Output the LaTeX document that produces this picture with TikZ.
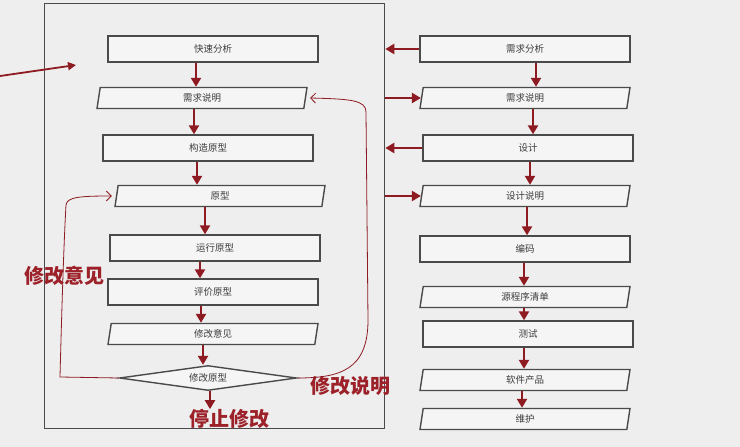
\documentclass[tikz,border=0pt]{standalone}
\usepackage{fontspec}
\setmainfont{Noto Sans CJK SC}
\usetikzlibrary{shapes.geometric,arrows.meta,calc}
\definecolor{bg}{HTML}{EEEEEE}
\definecolor{dred}{HTML}{8E1B22}
\definecolor{lred}{HTML}{9C2129}
\definecolor{edgec}{HTML}{4A4A4A}
\definecolor{txt}{HTML}{3C3C3C}
\tikzset{
  box/.style={draw=edgec, line width=1.4pt, fill=bg!60!white, minimum width=210pt, minimum height=26pt, inner sep=0pt, font=\fontsize{9.5}{10}\selectfont, text=txt},
  para/.style={box, trapezium, trapezium left angle=70, trapezium right angle=110, trapezium stretches body, minimum height=21pt, minimum width=210pt},
  dia/.style={box, diamond, aspect=7, minimum width=177pt, minimum height=25pt},
  arr/.style={dred, line width=2.3pt, -{Triangle[length=9pt,width=10pt]}},
  loopline/.style={dred, line width=0.8pt, -{Straight Barb[length=5pt,width=10pt]}},
  lab/.style={text=lred, font=\fontsize{20}{22}\selectfont\bfseries, inner sep=0pt}
}
\begin{document}
\begin{tikzpicture}[x=1pt,y=-1pt]
\fill[bg] (0,0) rectangle (740,447);
\useasboundingbox (0,0) rectangle (740,447);
\node[draw=edgec, line width=1.3pt, minimum width=340pt, minimum height=425pt, inner sep=0pt, anchor=north west] (frame) at (44,3) {};
% left column
\node[box] (a1) at (213,49) {快速分析};
\node[para] (a2) at (202,98) {需求说明};
\node[box] (a3) at (208,148) {构造原型};
\node[para] (a4) at (220,196) {原型};
\node[box] (a5) at (215,248) {运行原型};
\node[box] (a6) at (213,292) {评价原型};
\node[para] (a7) at (213,334) {修改意见};
\node[dia] (a8) at (208,378) {修改原型};
\node[lab] (stop) at (229,419) {停止修改};
\node[lab] (l1) at (64,276) {修改意见};
\node[lab] (l2) at (350,386) {修改说明};
\draw[arr] ([xshift=-17pt]a1.south) -- ([xshift=-17pt]a1.south |- a2.north);
\draw[arr] ([xshift=-8pt]a2.south) -- ([xshift=-8pt]a2.south |- a3.north);
\draw[arr] ([xshift=-11pt]a3.south) -- ([xshift=-11pt]a3.south |- a4.north);
\draw[arr] ([xshift=-15pt]a4.south) -- ([xshift=-15pt]a4.south |- a5.north);
\draw[arr] ([xshift=-15pt]a5.south) -- ([xshift=-15pt]a5.south |- a6.north);
\draw[arr] ([xshift=-12pt]a6.south) -- ([xshift=-12pt]a6.south |- a7.north);
\draw[arr] ([xshift=-10pt]a7.south) -- ([xshift=-10pt]a7.south |- a8.north);
\draw[arr] ([xshift=2pt]a8.south) -- ([xshift=2pt]a8.south |- stop.north);
% right column
\node[box] (b1) at (525,49) {需求分析};
\node[para] (b2) at (525,98) {需求说明};
\node[box] (b3) at (528,148) {设计};
\node[para] (b4) at (525,196) {设计说明};
\node[box] (b5) at (525,249) {编码};
\node[para] (b6) at (525,297) {源程序清单};
\node[box] (b7) at (528,334) {测试};
\node[para] (b8) at (525,380) {软件产品};
\node[para] (b9) at (525,419) {维护};
\draw[arr] ([xshift=11pt]b1.south) -- ([xshift=11pt]b1.south |- b2.north);
\draw[arr] ([xshift=8pt]b2.south) -- ([xshift=8pt]b2.south |- b3.north);
\draw[arr] ([xshift=2pt]b3.south) -- ([xshift=2pt]b3.south |- b4.north);
\draw[arr] ([xshift=2pt]b4.south) -- ([xshift=2pt]b4.south |- b5.north);
\draw[arr] ([xshift=-1pt]b5.south) -- ([xshift=-1pt]b5.south |- b6.north);
\draw[arr] ([xshift=-1pt]b6.south) -- ([xshift=-1pt]b6.south |- b7.north);
\draw[arr] ([xshift=-4pt]b7.south) -- ([xshift=-4pt]b7.south |- b8.north);
\draw[arr] ([xshift=-3pt]b8.south) -- ([xshift=-3pt]b8.south |- b9.north);
% horizontal links
\draw[arr] (b1.west) -- (b1.west -| frame.east);
\draw[arr] (b2.west -| frame.east) -- (b2.west);
\draw[arr] (b3.west) -- (b3.west -| frame.east);
\draw[arr] (b4.west -| frame.east) -- (b4.west);
% loops
\draw[loopline] (a8.west) -- (60,377) .. controls (62,300) and (64,240) .. (66,205) .. controls (67,197) and (80,196) .. ([xshift=-4pt]a4.west);
\draw[loopline] (a8.east) .. controls (340,378) and (368,370) .. (368,320) -- (366,112) .. controls (366,100) and (350,99) .. ([xshift=4pt]a2.east);
% incoming arrow
\coordinate (src) at (0,76);
\coordinate (ptr) at (76,65);
\draw[dred, line width=1.8pt, -{Triangle[length=8pt,width=8pt]}] (src) -- (ptr);
\end{tikzpicture}
\end{document}
